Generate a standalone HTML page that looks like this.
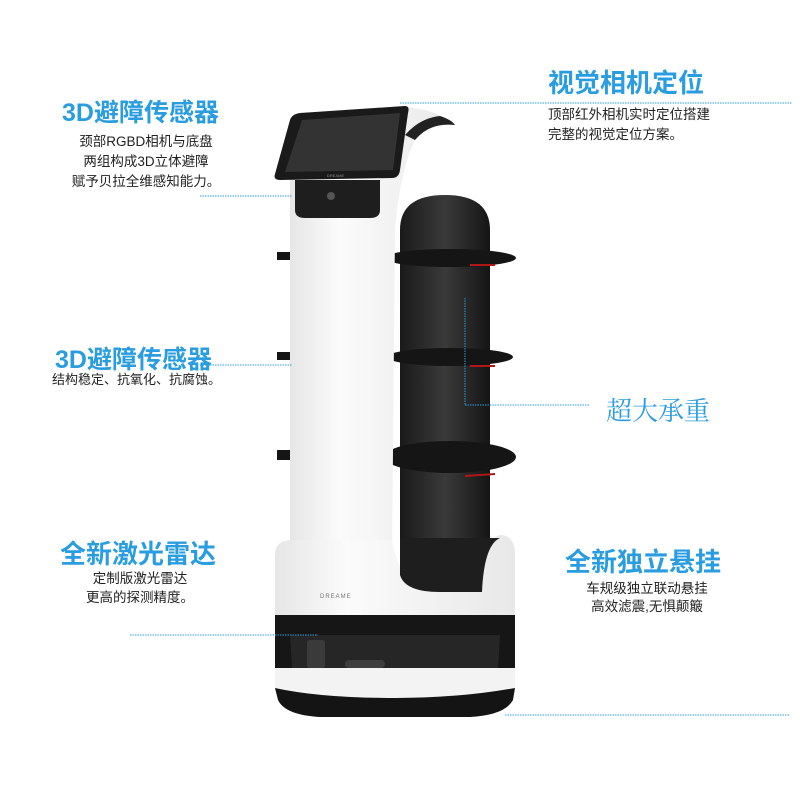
<!DOCTYPE html>
<html><head><meta charset="utf-8"><style>
html,body{margin:0;padding:0;background:#fff;}
body{width:800px;height:800px;overflow:hidden;position:relative;font-family:"Liberation Sans","Noto Sans CJK SC",sans-serif;}
.t{position:absolute;color:#2a9de0;font-weight:bold;white-space:nowrap;}
.s{position:absolute;color:#222;font-size:13.5px;line-height:20px;white-space:nowrap;}
svg{position:absolute;left:0;top:0;}
</style></head><body>
<svg width="800" height="800" viewBox="0 0 800 800">
<defs>
<linearGradient id="wb" x1="0" x2="1"><stop offset="0" stop-color="#e6e6e6"/><stop offset="0.3" stop-color="#fbfbfb"/><stop offset="1" stop-color="#e8e8e8"/></linearGradient>
<linearGradient id="bk" x1="0" x2="1"><stop offset="0" stop-color="#1a1a1a"/><stop offset="0.5" stop-color="#3a3a3a"/><stop offset="1" stop-color="#151515"/></linearGradient>
</defs>
<path d="M400 230 Q400 195 445 195 Q490 195 490 230 L490 540 L400 540 Z" fill="url(#bk)"/>
<g fill="#151515">
<ellipse cx="450" cy="258" rx="66" ry="9"/>
<ellipse cx="450" cy="357" rx="63" ry="9"/>
<ellipse cx="450" cy="457" rx="66" ry="16"/>
<rect x="277" y="252" width="16" height="8"/>
<rect x="277" y="352" width="16" height="8"/>
<rect x="277" y="450" width="16" height="10"/>
</g>
<g stroke="#b01818" stroke-width="2"><line x1="470" y1="265" x2="495" y2="265"/><line x1="470" y1="366" x2="495" y2="366"/><line x1="465" y1="476" x2="495" y2="474"/></g>
<path d="M290 140 Q330 112 400 106 Q440 110 455 125 Q430 122 415 140 Q400 170 395 230 L392 560 L290 560 Z" fill="url(#wb)"/>
<path d="M415 140 Q430 122 455 125 Q452 120 440 116 Q420 118 405 135 Z" fill="#222"/>
<path d="M295 180 L380 180 L380 210 Q380 218 370 218 L305 218 Q295 218 295 210 Z" fill="#1e1e1e"/>
<circle cx="331" cy="196" r="4" fill="#555"/>
<path d="M300 113 L405 106 Q410 106 408 113 L400 170 Q399 178 392 178 L280 180 Q273 180 275 174 L290 120 Q292 114 300 113 Z" fill="#1a1a1a"/>
<path d="M302 120 L400 113 L393 170 L285 172 Z" fill="#333"/>
<text x="327" y="177" font-size="4" fill="#888">DREAME</text>
<path d="M275 555 Q275 540 292 540 L392 540 Q400 590 440 590 L480 590 Q482 540 500 535 Q515 535 515 555 L515 625 L275 625 Z" fill="url(#wb)"/>
<path d="M400 540 L400 575 Q405 592 440 592 L482 592 Q484 545 500 538 L400 538 Z" fill="#1e1e1e"/>
<text x="320" y="598" font-size="6" fill="#777" letter-spacing="1">DREAME</text>
<path d="M275 615 L515 615 L515 672 Q515 678 505 678 L285 678 Q275 678 275 672 Z" fill="#161616"/>
<path d="M290 635 L500 635 L498 668 L292 668 Z" fill="#262626"/>
<rect x="307" y="640" width="18" height="28" rx="3" fill="#3a3a3a"/>
<rect x="345" y="660" width="40" height="8" rx="4" fill="#3e3e3e"/>
<path d="M275 668 L515 668 L515 690 Q460 700 395 700 Q320 700 275 690 Z" fill="#f3f3f3"/>
<path d="M275 688 Q320 698 395 698 Q460 698 515 688 L513 700 Q505 715 470 717 L320 717 Q285 715 278 700 Z" fill="#141414"/>
<g stroke="#2a9de0" stroke-width="1" fill="none" stroke-dasharray="1.5 1">
<line x1="200" y1="196" x2="292" y2="196"/>
<line x1="400" y1="103" x2="792" y2="103"/>
<line x1="200" y1="365" x2="292" y2="365"/>
<line x1="465" y1="298" x2="465" y2="405"/>
<line x1="465" y1="405" x2="590" y2="405"/>
<line x1="130" y1="635" x2="318" y2="635"/>
<line x1="505" y1="715" x2="790" y2="715"/>
</g>
</svg>
<div class="t" style="left:62px;top:93px;font-size:25px;">3D避障传感器</div>
<div class="s" style="left:66px;top:132px;width:160px;text-align:center;">颈部RGBD相机与底盘<br>两组构成3D立体避障<br>赋予贝拉全维感知能力。</div>
<div class="t" style="left:548px;top:63px;font-size:26px;">视觉相机定位</div>
<div class="s" style="left:548px;top:105px;">顶部红外相机实时定位搭建<br>完整的视觉定位方案。</div>
<div class="t" style="left:55px;top:340px;font-size:25px;">3D避障传感器</div>
<div class="s" style="left:52px;top:370px;font-size:13px;">结构稳定、抗氧化、抗腐蚀。</div>
<div class="t" style="left:606px;top:391px;font-size:26px;font-weight:normal;font-family:'Noto Serif CJK SC',serif;">超大承重</div>
<div class="t" style="left:60px;top:534px;font-size:26px;">全新激光雷达</div>
<div class="s" style="left:65px;top:569px;width:150px;text-align:center;line-height:19px;">定制版激光雷达<br>更高的探测精度。</div>
<div class="t" style="left:565px;top:542px;font-size:26px;">全新独立悬挂</div>
<div class="s" style="left:567px;top:580px;width:160px;text-align:center;line-height:18px;">车规级独立联动悬挂<br>高效滤震,无惧颠簸</div>
</body></html>
